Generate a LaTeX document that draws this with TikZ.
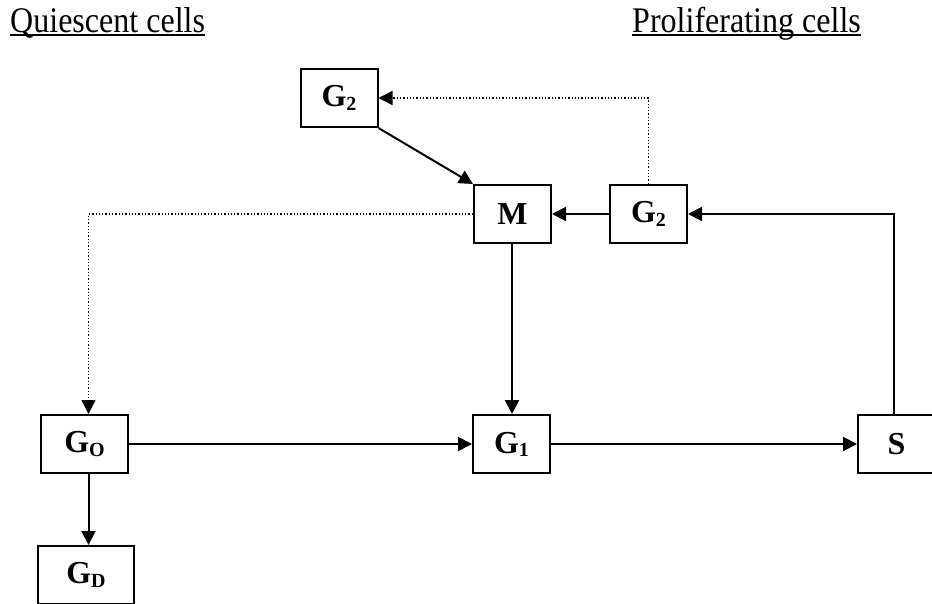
\documentclass[tikz,border=0pt]{standalone}
\usepackage{fontspec}
\setmainfont{Liberation Serif}
\usetikzlibrary{arrows.meta,calc}
\newcommand{\subx}[1]{\raisebox{-0.1em}{\fontsize{20}{20}\selectfont #1}}
\newcommand{\hdtext}[1]{\scalebox{0.89}[1]{#1}}
\begin{document}
\begin{tikzpicture}[x=1pt,y=-1pt,
  cellbox/.style={draw,line width=2pt,minimum width=77pt,minimum height=58pt,inner sep=0pt,
    font=\bfseries\fontsize{32}{34}\selectfont},
  arr/.style={line width=2pt,-{Triangle[length=14pt,width=14pt]}},
  dotarr/.style={line width=1.3pt,dotted,-{Triangle[length=14pt,width=14pt]}},
  header/.style={anchor=base west,inner sep=0pt,font=\fontsize{36}{40}\selectfont}]
\useasboundingbox (0,0) rectangle (932,603);
\clip (0,0) rectangle (932,603);
% headers
\node[header] (hq) at (10,32) {\hdtext{Quiescent cells}};
\node[header] (hp) at (632,32) {\hdtext{Proliferating cells}};
\draw[line width=2pt] ($(hq.base west)+(0,3)$) -- ($(hq.base east)+(0,3)$);
\draw[line width=2pt] ($(hp.base west)+(0,3)$) -- ($(hp.base east)+(0,3)$);
% boxes
\node[cellbox] (g2a) at (339,98) {G\subx{2}};
\node[cellbox] (m) at (512.5,214) {M};
\node[cellbox] (g2b) at (648.5,214) {G\subx{2}};
\node[cellbox,minimum width=87pt] (g0) at (84.5,444) {G\subx{O}};
\node[cellbox] (g1) at (511.5,444) {G\subx{1}};
\node[cellbox] (s) at (896.5,444) {S};
\node[cellbox,minimum width=96pt] (gd) at (86,575) {G\subx{D}};
% connectors
\coordinate (g0top) at ($(g0.north)+(4,0)$);
\coordinate (g0bot) at ($(g0.south)+(4,0)$);
\coordinate (stop) at ($(s.north)+(-2.5,0)$);
\coordinate (mbot) at ($(m.south)+(-0.5,0)$);
\draw[arr] (g2a.south east) -- (m.north west);
\draw[arr] (g2b.west) -- (m.east);
\draw[arr] (stop) |- (g2b.east);
\draw[dotarr] (g2b.north) |- (g2a.east);
\draw[dotarr] (m.west) -| (g0top);
\draw[arr] (mbot) -- (mbot |- g1.north);
\draw[arr] (g0.east) -- (g1.west);
\draw[arr] (g1.east) -- (s.west);
\draw[arr] (g0bot) -- (g0bot |- gd.north);
\end{tikzpicture}
\end{document}
